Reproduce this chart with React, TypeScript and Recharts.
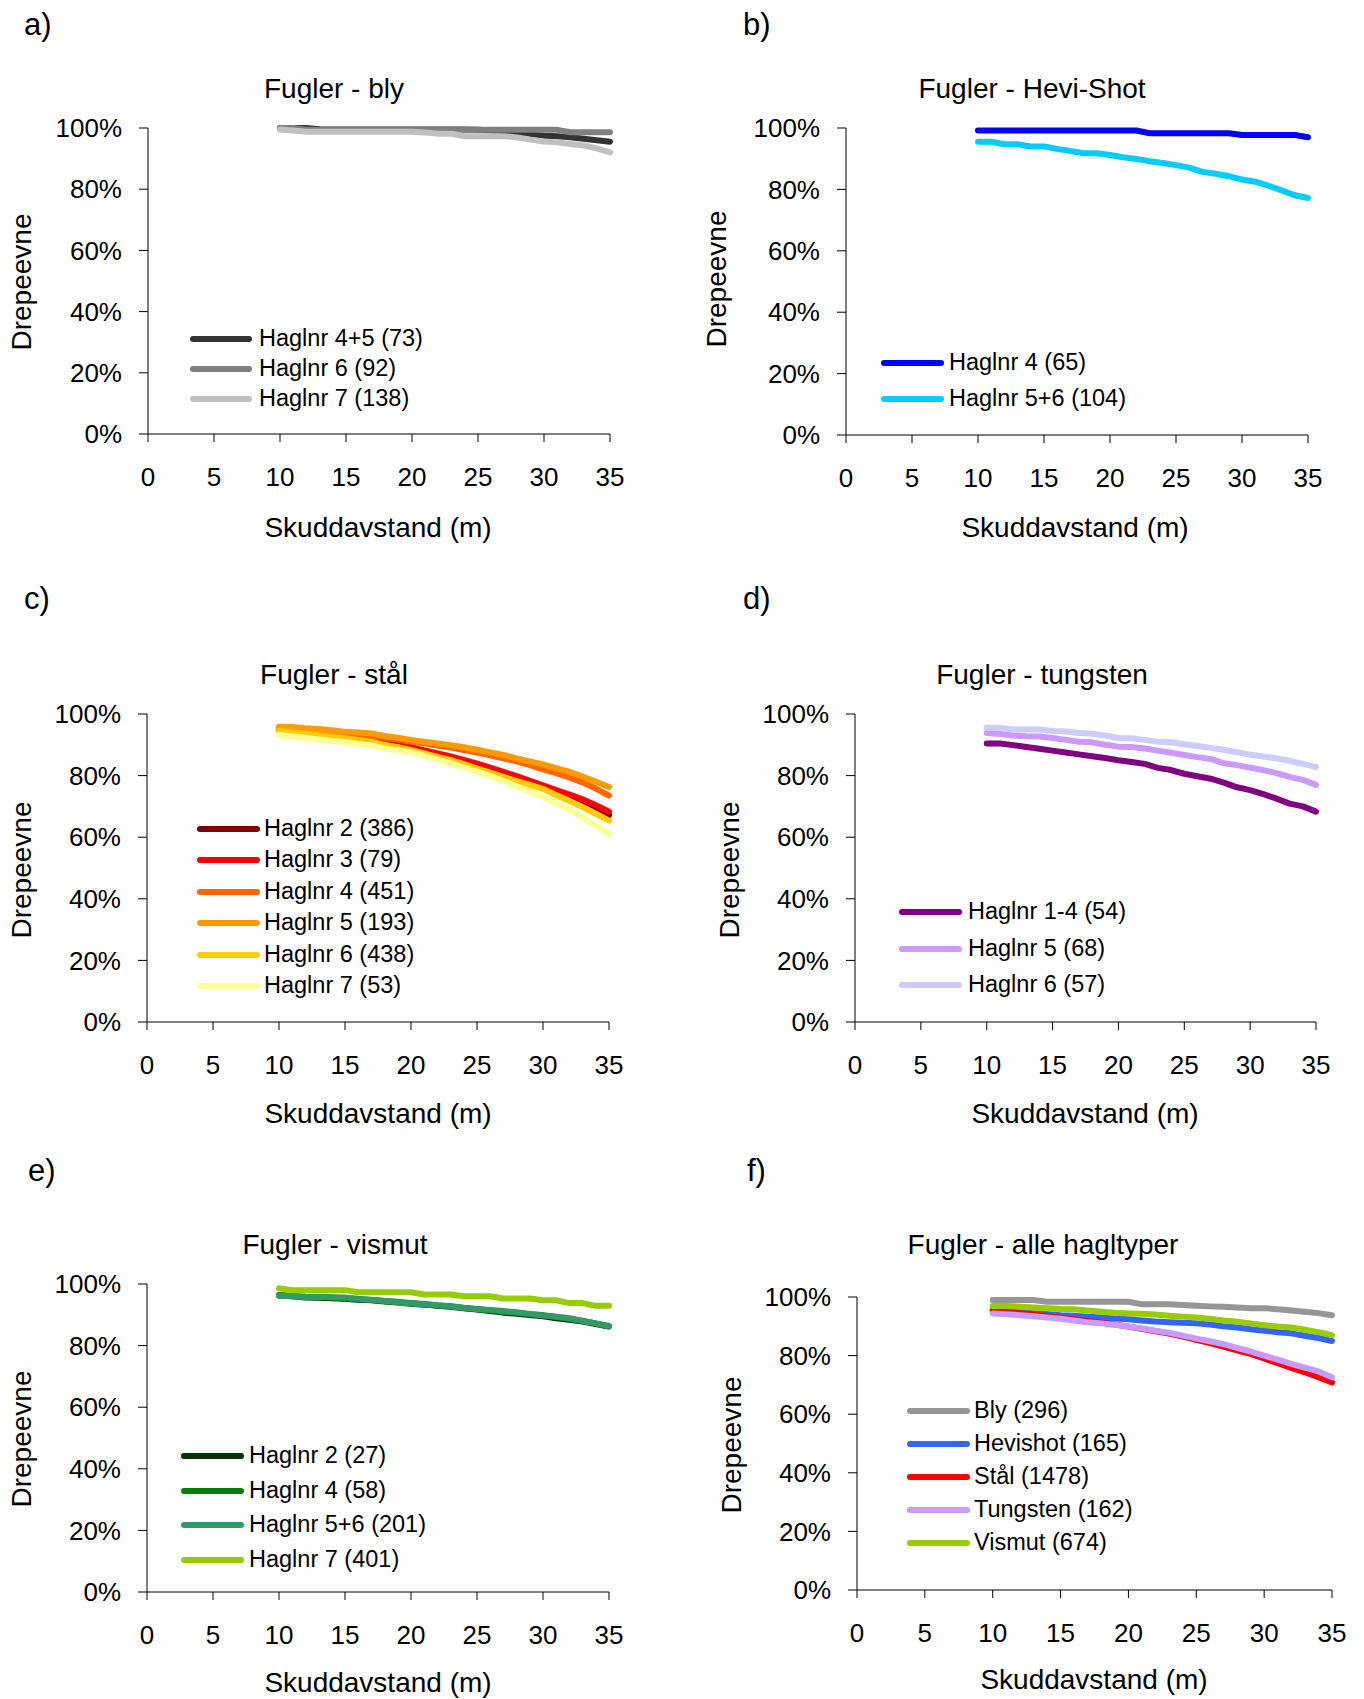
import { Line, LineChart, XAxis, YAxis } from "recharts";

const distances = [10, 11, 12, 13, 14, 15, 16, 17, 18, 19, 20, 21, 22, 23, 24, 25, 26, 27, 28, 29, 30, 31, 32, 33, 34, 35];
const xTicks = [0, 5, 10, 15, 20, 25, 30, 35];
const yTicks = [0, 20, 40, 60, 80, 100];

// a) bly
const blyNames = ["Haglnr 4+5 (73)", "Haglnr 6 (92)", "Haglnr 7 (138)"];
const blyColors = ["#333333", "#808080", "#c0c0c0"];
const bly45 = [100, 100, 100, 99.6, 99.5, 99.5, 99.5, 99.5, 99.5, 99.5, 99.5, 99.5, 99.5, 99.5, 99.5, 99.4, 99.2, 99, 98.5, 98, 97.5, 97.3, 97, 96.5, 96, 95.5];
const bly6 = [100, 100, 99.4, 99.4, 99.4, 99.4, 99.4, 99.4, 99.4, 99.4, 99.4, 99.4, 99.4, 99.4, 99.4, 99.4, 99.4, 99.4, 99.4, 99.4, 99.4, 99.4, 98.6, 98.6, 98.6, 98.6];
const bly7 = [99.5, 99.2, 98.8, 98.8, 98.8, 98.8, 98.8, 98.8, 98.8, 98.8, 98.8, 98.5, 98.1, 98.1, 97.3, 97.3, 97.3, 97.3, 96.9, 96.2, 95.6, 95.3, 94.8, 94.3, 93.3, 92];

// b) Hevi-Shot
const heviNames = ["Haglnr 4 (65)", "Haglnr 5+6 (104)"];
const heviColors = ["#0000ff", "#00ccff"];
const hevi4 = [99.2, 99.2, 99.2, 99.2, 99.2, 99.2, 99.2, 99.2, 99.2, 99.2, 99.2, 99.2, 99.2, 98.3, 98.3, 98.3, 98.3, 98.3, 98.3, 98.3, 97.7, 97.7, 97.7, 97.7, 97.7, 97];
const hevi56 = [95.5, 95.5, 94.7, 94.7, 94, 94, 93.2, 92.5, 91.8, 91.8, 91.2, 90.5, 89.9, 89.2, 88.6, 87.9, 87.1, 85.7, 85.1, 84.3, 83.2, 82.5, 81.2, 79.7, 78.1, 77.2];

// c) stål
const stalNames = ["Haglnr 2 (386)", "Haglnr 3 (79)", "Haglnr 4 (451)", "Haglnr 5 (193)", "Haglnr 6 (438)", "Haglnr 7 (53)"];
const stalColors = ["#800000", "#ff0000", "#ff6600", "#ff9900", "#ffcc00", "#ffff99"];
const stal2 = [95, 94.5, 94, 93.5, 93, 92.5, 91.9, 91.2, 90.5, 89.8, 89, 88, 87, 85.9, 84.8, 83.6, 82.3, 80.9, 79.4, 77.8, 76.2, 74.5, 72.8, 71, 69, 67.2];
const stal3 = [95.2, 94.7, 94.2, 93.7, 93.2, 92.6, 92, 91.3, 90.6, 89.9, 89.2, 88.2, 87.2, 86.2, 85.1, 83.9, 82.6, 81.2, 79.8, 78.3, 76.8, 75.3, 73.8, 72.3, 70.4, 68.3];
const stal4 = [95.6, 95.4, 95, 94.6, 94.2, 93.8, 93.3, 92.9, 92.3, 91.7, 91.1, 90.5, 89.8, 89.1, 88.3, 87.5, 86.6, 85.6, 84.6, 83.4, 82, 80.8, 79.4, 77.8, 75.8, 73.5];
const stal5 = [95.9, 95.8, 95.4, 95.1, 94.7, 94.2, 94, 93.7, 92.9, 92.3, 91.6, 91, 90.4, 89.9, 89.2, 88.4, 87.5, 86.7, 85.6, 84.6, 83.6, 82.4, 81.2, 79.7, 78, 76.3];
const stal6 = [94.6, 94.1, 93.6, 93.1, 92.6, 92.1, 91.6, 91, 90, 89.2, 88.3, 87.2, 86.1, 85, 83.7, 82.3, 81, 79.6, 78.2, 77, 75.7, 73.6, 71.8, 69.8, 67.6, 65.4];
const stal7 = [93.2, 92.7, 92.2, 91.7, 91.2, 90.8, 90.3, 89.8, 88.7, 88.2, 87.5, 86.4, 85.2, 84, 82.6, 81.2, 79.8, 78.2, 76.5, 74.8, 73, 71, 69, 66.4, 63.7, 61];

// d) tungsten
const tungNames = ["Haglnr 1-4 (54)", "Haglnr 5 (68)", "Haglnr 6 (57)"];
const tungColors = ["#800080", "#cc99ff", "#ccccff"];
const tung14 = [90.4, 90.4, 89.9, 89.3, 88.7, 88.1, 87.5, 86.9, 86.3, 85.7, 85, 84.4, 83.8, 82.5, 81.8, 80.6, 79.8, 79, 77.7, 76.2, 75.3, 74, 72.5, 70.9, 70, 68.3];
const tung5 = [93.8, 93.5, 93, 92.8, 92.7, 92.2, 91.6, 91, 90.8, 90, 89.4, 89.3, 88.8, 88.1, 87.4, 86.7, 86, 85.4, 84, 83.4, 82.6, 81.8, 80.8, 79.6, 78.6, 77];
const tung6 = [95.5, 95.5, 95, 95, 95, 94.5, 94.3, 93.8, 93.6, 93, 92.2, 92.1, 91.6, 91, 90.8, 90.2, 89.6, 89, 88.4, 87.6, 86.8, 86.2, 85.6, 84.8, 83.8, 82.8];

// e) vismut
const visNames = ["Haglnr 2 (27)", "Haglnr 4 (58)", "Haglnr 5+6 (201)", "Haglnr 7 (401)"];
const visColors = ["#003300", "#008000", "#339966", "#99cc00"];
const vis2 = [96.3, 96, 95.6, 95.5, 95.4, 95.2, 94.9, 94.7, 94.3, 94, 93.6, 93.3, 92.9, 92.6, 92.1, 91.7, 91.2, 90.7, 90.3, 89.9, 89.5, 88.9, 88.4, 87.8, 87, 86.2];
const vis4 = [96.4, 96.1, 95.9, 95.8, 95.6, 95.3, 95, 94.8, 94.5, 94.2, 93.8, 93.5, 93, 92.7, 92.2, 91.8, 91.4, 90.9, 90.6, 90.2, 89.9, 89.3, 88.7, 88, 87.2, 86.3];
const vis56 = [96.2, 96, 95.8, 95.8, 95.7, 95.6, 95.2, 94.9, 94.5, 94.1, 93.7, 93.4, 93.1, 92.8, 92.3, 91.9, 91.6, 91.2, 90.8, 90.3, 89.8, 89.4, 88.9, 88, 87.2, 86.3];
const vis7 = [98.6, 98, 98, 98, 98, 98, 97.3, 97.3, 97.3, 97.3, 97.3, 96.6, 96.6, 96.6, 96, 96, 96, 95.3, 95.3, 95.3, 94.7, 94.7, 93.8, 93.8, 92.9, 92.9];

// f) alle hagltyper
const alleNames = ["Bly (296)", "Hevishot (165)", "Stål (1478)", "Tungsten (162)", "Vismut (674)"];
const alleColors = ["#969696", "#3366ff", "#ff0000", "#cc99ff", "#99cc00"];
const alleBly = [99, 99, 99, 99, 98.4, 98.4, 98.4, 98.4, 98.4, 98.4, 98.4, 97.5, 97.5, 97.5, 97.3, 97, 96.8, 96.7, 96.4, 96.2, 96.2, 95.8, 95.4, 95, 94.5, 93.8];
const alleHevi = [95.5, 95.2, 94.9, 94.5, 94.2, 93.8, 93.6, 93.3, 93, 92.7, 92.4, 92, 91.6, 91.4, 91.2, 91, 90.6, 90, 89.6, 89, 88.5, 88, 87.6, 86.8, 86, 85];
const alleStal = [95.3, 94.9, 94.5, 94, 93.5, 93, 92.4, 91.8, 91.2, 90.6, 89.9, 89.1, 88.3, 87.5, 86.5, 85.4, 84.3, 83.1, 81.8, 80.6, 79, 77.4, 75.8, 74.3, 72.6, 70.8];
const alleTung = [94.4, 94.1, 93.8, 93.4, 93, 92.6, 92, 91.4, 91, 90.5, 89.9, 89.2, 88.5, 87.8, 86.8, 85.8, 84.9, 83.9, 82.6, 81.4, 80, 78.6, 77.2, 75.9, 74.6, 72.6];
const alleVis = [96.9, 96.9, 96.7, 96.4, 96.2, 95.9, 95.8, 95.4, 95, 94.6, 94.4, 94.3, 94, 93.6, 93.3, 93, 92.6, 92, 91.6, 91, 90.4, 89.9, 89.6, 88.8, 88, 87];

const FONT = '"Liberation Sans", Arial, Helvetica, sans-serif';

type Panel = {
  label: string;
  title: string;
  names: string[];
  colors: string[];
  values: number[][];
  plot: { x0: number; x1: number; y0: number; y1: number };
  labelPos: [number, number];
  titlePos: [number, number];
  xTitlePos: [number, number];
  yTitlePos: [number, number];
  legend: { lx0: number; lx1: number; tx: number; y0: number; dy: number };
};

const panels: Panel[] = [
  {
    label: "a)", title: "Fugler - bly", names: blyNames, colors: blyColors, values: [bly45, bly6, bly7],
    plot: { x0: 148, x1: 610, y0: 128, y1: 434 },
    labelPos: [24, 24], titlePos: [334, 89], xTitlePos: [378, 528], yTitlePos: [22, 282],
    legend: { lx0: 190, lx1: 252, tx: 259, y0: 339, dy: 30 },
  },
  {
    label: "b)", title: "Fugler - Hevi-Shot", names: heviNames, colors: heviColors, values: [hevi4, hevi56],
    plot: { x0: 846, x1: 1308, y0: 128, y1: 435 },
    labelPos: [743, 24], titlePos: [1032, 89], xTitlePos: [1075, 528], yTitlePos: [717, 279],
    legend: { lx0: 881, lx1: 944, tx: 949, y0: 363, dy: 36 },
  },
  {
    label: "c)", title: "Fugler - stål", names: stalNames, colors: stalColors, values: [stal2, stal3, stal4, stal5, stal6, stal7],
    plot: { x0: 147, x1: 609, y0: 714, y1: 1022 },
    labelPos: [24, 598], titlePos: [334, 675], xTitlePos: [378, 1114], yTitlePos: [22, 870],
    legend: { lx0: 197, lx1: 260, tx: 264, y0: 829, dy: 31.4 },
  },
  {
    label: "d)", title: "Fugler - tungsten", names: tungNames, colors: tungColors, values: [tung14, tung5, tung6],
    plot: { x0: 855, x1: 1316, y0: 714, y1: 1022 },
    labelPos: [743, 598], titlePos: [1042, 675], xTitlePos: [1085, 1114], yTitlePos: [730, 870],
    legend: { lx0: 899, lx1: 962, tx: 968, y0: 912, dy: 36.5 },
  },
  {
    label: "e)", title: "Fugler - vismut", names: visNames, colors: visColors, values: [vis2, vis4, vis56, vis7],
    plot: { x0: 147, x1: 609, y0: 1284, y1: 1592 },
    labelPos: [28, 1170], titlePos: [335, 1245], xTitlePos: [378, 1683], yTitlePos: [22, 1439],
    legend: { lx0: 181, lx1: 244, tx: 249, y0: 1456, dy: 34.6 },
  },
  {
    label: "f)", title: "Fugler - alle hagltyper", names: alleNames, colors: alleColors, values: [alleBly, alleHevi, alleStal, alleTung, alleVis],
    plot: { x0: 857, x1: 1332, y0: 1297, y1: 1590 },
    labelPos: [747, 1170], titlePos: [1043, 1245], xTitlePos: [1094, 1680], yTitlePos: [732, 1445],
    legend: { lx0: 907, lx1: 970, tx: 974, y0: 1411, dy: 32.9 },
  },
];

function centered(x: number, y: number, size: number, text: string) {
  return (
    <div
      style={{
        position: "absolute", left: x, top: y, transform: "translate(-50%, -50%)",
        fontSize: size, lineHeight: 1, whiteSpace: "nowrap", color: "#000",
      }}
    >
      {text}
    </div>
  );
}

function ChartPanel({ p }: { p: Panel }) {
  const data = distances.map((x, i) => {
    const row: Record<string, number> = { x };
    p.values.forEach((v, j) => (row["s" + j] = v[i]));
    return row;
  });
  const left = p.plot.x0 - 140;
  const top = p.plot.y0 - 20;
  const width = p.plot.x1 - p.plot.x0 + 160;
  const height = p.plot.y1 - p.plot.y0 + 80;
  const tickStyle = { fontSize: 26, fill: "#000", fontFamily: FONT };

  return (
    <>
      <div style={{ position: "absolute", left, top }}>
        <LineChart width={width} height={height} data={data} margin={{ top: 20, right: 20, bottom: 0, left: 0 }}>
          <XAxis
            type="number" dataKey="x" domain={[0, 35]} ticks={xTicks} interval={0} height={60}
            stroke="#000" tick={tickStyle} tickSize={8} tickMargin={26}
          />
          <YAxis
            type="number" domain={[0, 100]} ticks={yTicks} interval={0} width={140}
            stroke="#000" tick={tickStyle} tickSize={9} tickMargin={17}
            tickFormatter={(v) => `${v}%`}
          />
          {p.names.map((name, j) => (
            <Line
              key={name} dataKey={"s" + j} name={name} stroke={p.colors[j]} strokeWidth={6}
              dot={false} type="linear" strokeLinecap="round" strokeLinejoin="round" isAnimationActive={false}
            />
          ))}
        </LineChart>
      </div>
      <div
        style={{
          position: "absolute", left: p.labelPos[0], top: p.labelPos[1], transform: "translateY(-50%)",
          fontSize: 31, lineHeight: 1,
        }}
      >
        {p.label}
      </div>
      {centered(p.titlePos[0], p.titlePos[1], 28, p.title)}
      {centered(p.xTitlePos[0], p.xTitlePos[1], 28, "Skuddavstand (m)")}
      <div
        style={{
          position: "absolute", left: p.yTitlePos[0], top: p.yTitlePos[1],
          transform: "translate(-50%, -50%) rotate(-90deg)", fontSize: 28, lineHeight: 1, whiteSpace: "nowrap",
        }}
      >
        Drepeevne
      </div>
      {p.names.map((name, j) => {
        const cy = p.legend.y0 + j * p.legend.dy;
        return (
          <div key={name}>
            <div
              style={{
                position: "absolute", left: p.legend.lx0, top: cy - 3, width: p.legend.lx1 - p.legend.lx0,
                height: 6, borderRadius: 3, background: p.colors[j],
              }}
            />
            <div
              style={{
                position: "absolute", left: p.legend.tx, top: cy, transform: "translateY(-50%)",
                fontSize: 23.5, lineHeight: 1, whiteSpace: "nowrap",
              }}
            >
              {name}
            </div>
          </div>
        );
      })}
    </>
  );
}

export default function App() {
  return (
    <div
      style={{
        position: "absolute", left: 0, top: 0, width: 1364, height: 1699, background: "#fff",
        fontFamily: FONT, color: "#000", overflow: "hidden",
      }}
    >
      {panels.map((p) => (
        <ChartPanel key={p.label} p={p} />
      ))}
    </div>
  );
}
